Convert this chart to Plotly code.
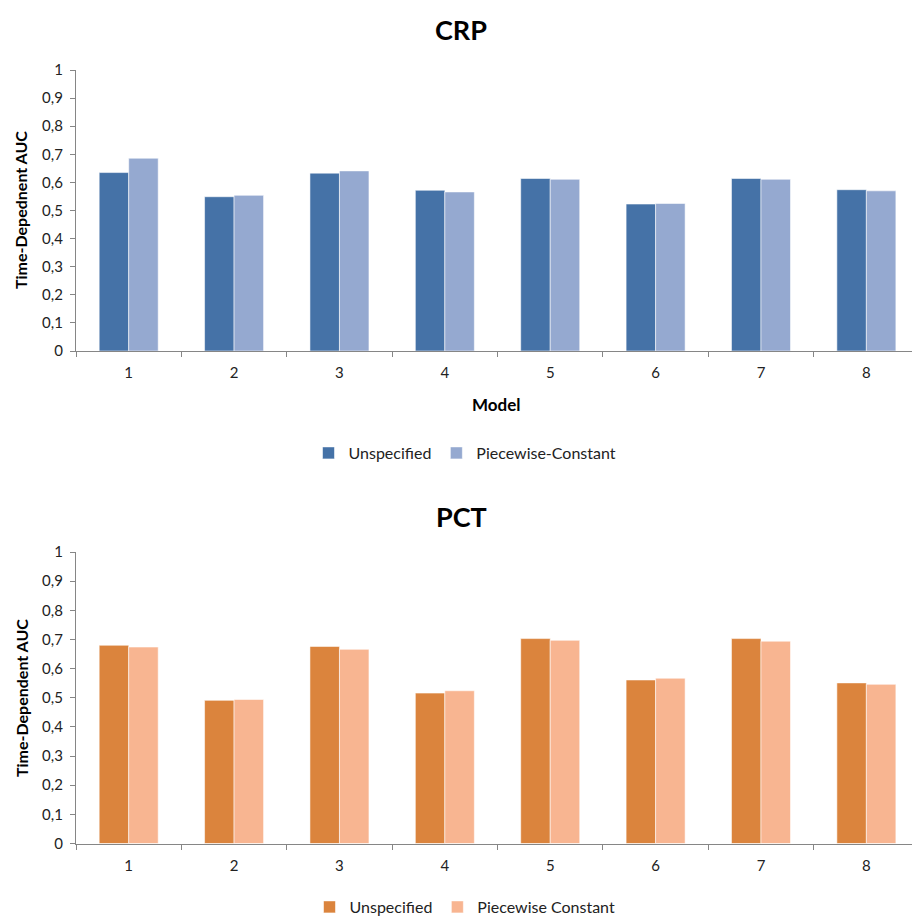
import plotly.graph_objects as go

# Model categories and AUC values per biomarker
models = ["1", "2", "3", "4", "5", "6", "7", "8"]

crp_unspecified = [0.635, 0.549, 0.633, 0.572, 0.614, 0.523, 0.614, 0.574]
crp_piecewise = [0.686, 0.554, 0.641, 0.566, 0.611, 0.525, 0.611, 0.570]

pct_unspecified = [0.680, 0.491, 0.676, 0.516, 0.703, 0.561, 0.703, 0.551]
pct_piecewise = [0.674, 0.494, 0.666, 0.524, 0.697, 0.567, 0.694, 0.546]

y_tickvals = [0, 0.1, 0.2, 0.3, 0.4, 0.5, 0.6, 0.7, 0.8, 0.9, 1]
y_ticktext = ["0", "0,1", "0,2", "0,3", "0,4", "0,5", "0,6", "0,7", "0,8", "0,9", "1"]

W, H = 912, 916
FONT = "Lato, Open Sans, sans-serif"
AXIS_GREY = "#868686"

BLUE_DARK = "#4572A7"
BLUE_LIGHT = "#95A9D0"
ORANGE_DARK = "#DB843D"
ORANGE_LIGHT = "#F8B591"


def py(pixel_y):
    return 1 - pixel_y / H


def px(pixel_x):
    return pixel_x / W


fig = go.Figure()

edge = dict(color="rgba(255,255,255,0.55)", width=1)

fig.add_trace(go.Bar(x=models, y=crp_unspecified, name="Unspecified",
                     marker=dict(color=BLUE_DARK, line=edge),
                     xaxis="x", yaxis="y", legend="legend"))
fig.add_trace(go.Bar(x=models, y=crp_piecewise, name="Piecewise-Constant",
                     marker=dict(color=BLUE_LIGHT, line=edge),
                     xaxis="x", yaxis="y", legend="legend"))
fig.add_trace(go.Bar(x=models, y=pct_unspecified, name="Unspecified",
                     marker=dict(color=ORANGE_DARK, line=edge),
                     xaxis="x2", yaxis="y2", legend="legend2"))
fig.add_trace(go.Bar(x=models, y=pct_piecewise, name="Piecewise Constant",
                     marker=dict(color=ORANGE_LIGHT, line=edge),
                     xaxis="x2", yaxis="y2", legend="legend2"))

x_common = dict(
    type="category",
    range=[-0.5, 7.433],
    domain=[px(76), 1],
    showline=True, linecolor=AXIS_GREY, linewidth=1.3,
    ticks="outside", ticklen=5, tickcolor=AXIS_GREY, tickwidth=1.3,
    tickson="boundaries",
    showgrid=False, zeroline=False,
    tickfont=dict(family=FONT, size=15, color="#222"),
    ticklabelstandoff=8,
    fixedrange=True,
)
y_common = dict(
    range=[0, 1],
    tickvals=y_tickvals, ticktext=y_ticktext,
    showline=True, linecolor=AXIS_GREY, linewidth=1.3,
    ticks="outside", ticklen=5, tickcolor=AXIS_GREY, tickwidth=1.3,
    showgrid=False, zeroline=False,
    tickfont=dict(family=FONT, size=15, color="#222"),
    ticklabelstandoff=4,
    fixedrange=True,
)

legend_common = dict(
    orientation="h", xanchor="center", yanchor="middle",
    font=dict(family=FONT, size=16, color="#222"),
    itemwidth=30, tracegroupgap=0, bgcolor="rgba(0,0,0,0)",
)


def label(text, x, y, size, angle=0):
    return dict(text=text, x=px(x), y=py(y), xref="paper", yref="paper",
                xanchor="center", yanchor="middle", showarrow=False,
                textangle=angle, font=dict(family=FONT, size=size, color="black"))


fig.update_layout(
    width=W, height=H,
    margin=dict(l=0, r=0, t=0, b=0, autoexpand=False),
    paper_bgcolor="white", plot_bgcolor="white",
    barmode="group", bargap=0.44, bargroupgap=0,
    showlegend=True,
    xaxis=dict(**x_common, anchor="y"),
    yaxis=dict(**y_common, domain=[py(351), py(70)], anchor="x"),
    xaxis2=dict(**x_common, anchor="y2"),
    yaxis2=dict(**y_common, domain=[py(843.5), py(552)], anchor="x2"),
    legend=dict(**legend_common, x=px(465), y=py(453)),
    legend2=dict(**legend_common, x=px(465), y=py(907)),
    annotations=[
        label("<b>CRP</b>", 461, 29, 27),
        label("<b>PCT</b>", 461, 516, 27),
        label("<b>Model</b>", 497, 404, 17),
        label("<b>Time-Depednent AUC</b>", 20, 210, 16, -90),
        label("<b>Time-Dependent AUC</b>", 21, 698, 16, -90),
    ],
)

fig.write_html("out.html")
